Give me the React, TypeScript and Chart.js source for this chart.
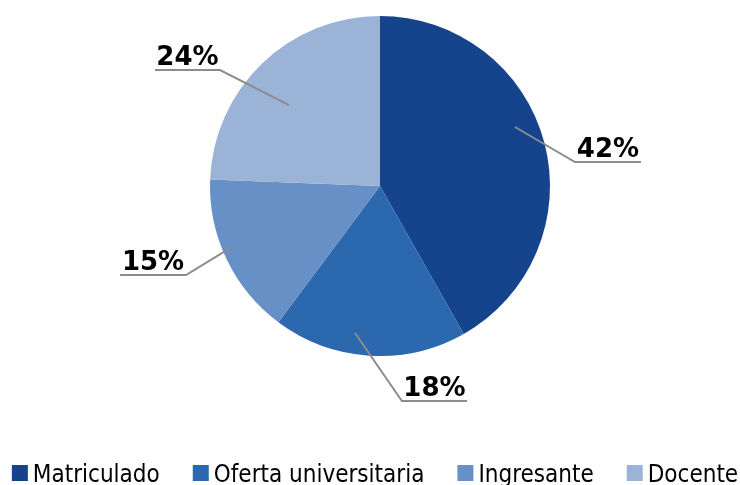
import React, { useEffect, useRef } from "react";
import { Chart, registerables } from "chart.js";

Chart.register(...registerables);

const categories = ["Matriculado", "Oferta universitaria", "Ingresante", "Docente"];
const values = [41.8, 18.4, 15.4, 24.4];
const colors = ["#15448C", "#2C68AE", "#6690C6", "#9AB3D6"];

// leader line layout, in units of the pie radius relative to the centre: start, elbow, end
const leaderLayout = [
  { sx: 0.794, sy: -0.347, ex: 1.147, ey: -0.141, tx: 1.535 },
  { sx: -0.147, sy: 0.865, ex: 0.129, ey: 1.265, tx: 0.512 },
  { sx: -0.882, sy: 0.365, ex: -1.141, ey: 0.524, tx: -1.529 },
  { sx: -0.535, sy: -0.476, ex: -0.941, ey: -0.682, tx: -1.324 },
];

const LABEL_FONT = "bold 26px 'DejaVu Sans', sans-serif";
const LEGEND_FONT = "24px 'DejaVu Sans Condensed', sans-serif";

const leaderPlugin = {
  id: "leaders",
  afterDatasetsDraw(chart: any) {
    const ctx = chart.ctx;
    const meta = chart.getDatasetMeta(0);
    const total = values.reduce((a, b) => a + b, 0);
    meta.data.forEach((arc: any, i: number) => {
      const cx = arc.x, cy = arc.y, r = arc.outerRadius;
      const L = leaderLayout[i];
      const x0 = cx + L.sx * r, y0 = cy + L.sy * r;
      const x1 = cx + L.ex * r, y1 = cy + L.ey * r;
      const x2 = cx + L.tx * r;
      ctx.save();
      ctx.strokeStyle = "#8C8C8C";
      ctx.lineWidth = 2;
      ctx.beginPath();
      ctx.moveTo(x0, y0);
      ctx.lineTo(x1, y1);
      ctx.lineTo(x2, y1);
      ctx.stroke();
      const txt = Math.round((values[i] / total) * 100) + "%";
      ctx.font = LABEL_FONT;
      ctx.fillStyle = "#000";
      ctx.textAlign = "center";
      ctx.textBaseline = "alphabetic";
      ctx.fillText(txt, (x1 + x2) / 2, y1 - 5);
      ctx.restore();
    });
  },
};

const legendPlugin = {
  id: "customLegend",
  afterDraw(chart: any) {
    const ctx = chart.ctx;
    ctx.save();
    ctx.font = LEGEND_FONT;
    const box = 16, gapText = 5, gapItem = 33;
    const widths = categories.map((c) => box + gapText + ctx.measureText(c).width);
    const totalW = widths.reduce((a, b) => a + b, 0) + gapItem * (categories.length - 1);
    let x = chart.width / 2 - totalW / 2 + 5;
    const baseline = 482;
    categories.forEach((c, i) => {
      ctx.fillStyle = colors[i];
      ctx.fillRect(x, 465, box, box);
      ctx.fillStyle = "#000";
      ctx.textAlign = "left";
      ctx.textBaseline = "alphabetic";
      ctx.fillText(c, x + box + gapText, baseline);
      x += widths[i] + gapItem;
    });
    ctx.restore();
  },
};

export default function App() {
  const ref = useRef<HTMLCanvasElement>(null);
  useEffect(() => {
    document.body.style.margin = "0";
    const chart = new Chart(ref.current!, {
      type: "pie",
      data: {
        labels: categories,
        datasets: [
          {
            data: values,
            backgroundColor: colors,
            borderWidth: 0,
          },
        ],
      },
      options: {
        animation: false,
        responsive: false,
        maintainAspectRatio: false,
        layout: { padding: { top: 16, bottom: 129, left: 40, right: 20 } },
        plugins: {
          legend: { display: false },
          tooltip: { enabled: false },
        },
      },
      plugins: [leaderPlugin, legendPlugin],
    });
    return () => chart.destroy();
  }, []);
  return (
    <div style={{ width: 740, height: 485 }}>
      <canvas ref={ref} width={740} height={485} style={{ display: "block" }} />
    </div>
  );
}
